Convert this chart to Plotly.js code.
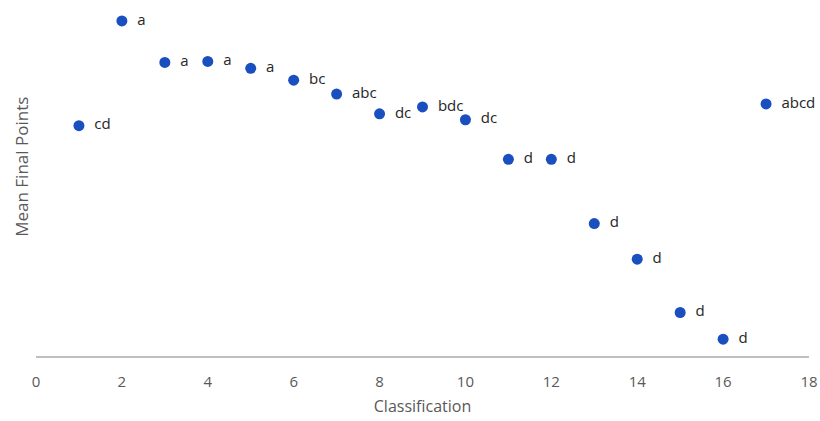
<!DOCTYPE html>
<html>
<head>
<meta charset="utf-8">
<script src="https://cdn.plot.ly/plotly-3.0.1.min.js"></script>
<style>html,body{margin:0;padding:0;background:#fff;}#chart{width:820px;height:421px;}</style>
</head>
<body>
<div id="chart"></div>
<script>
var classification = [1, 2, 3, 4, 5, 6, 7, 8, 9, 10, 11, 12, 13, 14, 15, 16, 17];
var meanFinalPoints = [23.4, 34.0, 29.8, 29.9, 29.2, 28.0, 26.6, 24.6, 25.3, 24.0, 20.0, 20.0, 13.5, 9.9, 4.5, 1.8, 25.6];
var groupLabels = ["cd", "a", "a", "a", "a", "bc", "abc", "dc", "bdc", "dc", "d", "d", "d", "d", "d", "d", "abcd"];
var xTicks = [0, 2, 4, 6, 8, 10, 12, 14, 16, 18];

var trace = {
  x: classification,
  y: meanFinalPoints,
  text: groupLabels.map(function (s) { return "\u2002" + s; }),
  mode: "markers+text",
  type: "scatter",
  textposition: "middle right",
  textfont: {family: "Open Sans, sans-serif", size: 15, color: "#262626"},
  marker: {color: "#1a4fc0", size: 11},
  cliponaxis: false,
  hoverinfo: "x+y"
};

var layout = {
  width: 820,
  height: 421,
  margin: {l: 36, r: 11, t: 11, b: 64},
  paper_bgcolor: "#ffffff",
  plot_bgcolor: "#ffffff",
  showlegend: false,
  font: {family: "Open Sans, sans-serif", color: "#595959"},
  xaxis: {
    range: [0, 18],
    tickvals: xTicks,
    ticktext: xTicks.map(String),
    showgrid: false,
    zeroline: false,
    showline: false,
    ticks: "",
    ticklabelstandoff: 14,
    tickfont: {size: 15, color: "#595959"},
    title: {text: "Classification", font: {size: 16, color: "#595959"}, standoff: 10}
  },
  yaxis: {
    range: [0, 35],
    showgrid: false,
    zeroline: true,
    zerolinecolor: "#bfbfbf",
    zerolinewidth: 2,
    showline: false,
    showticklabels: false,
    ticks: ""
  },
  annotations: [{
    text: "Mean Final Points",
    textangle: -90,
    xref: "paper", yref: "paper",
    x: -0.018, y: 0.55,
    xanchor: "center", yanchor: "middle",
    showarrow: false,
    font: {size: 17, color: "#595959"}
  }]
};

Plotly.newPlot("chart", [trace], layout, {displayModeBar: false, staticPlot: true});
</script>
</body>
</html>
